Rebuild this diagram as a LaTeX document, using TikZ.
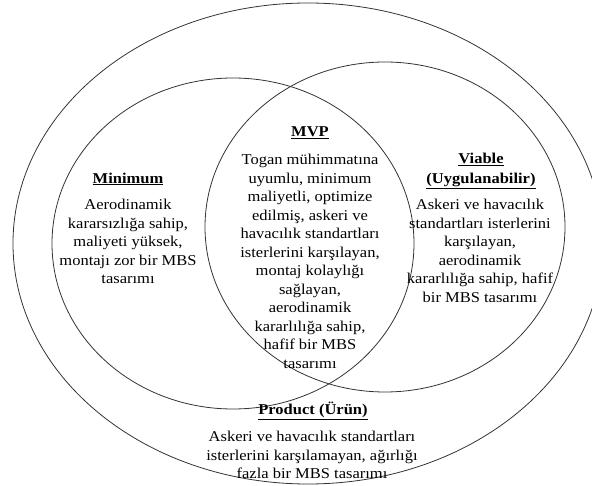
\documentclass[tikz,border=0pt]{standalone}
\usepackage{fontspec}
\setmainfont{Liberation Serif}[FakeStretch=1.1]
\usepackage{tikz}
\usetikzlibrary{positioning}

\begin{document}
\begin{tikzpicture}[
          x=1pt, y=-1pt,
          every node/.style={font=\fontsize{15}{18.5}\selectfont, inner sep=0pt},
          ring/.style={draw=black!80, line width=0.8pt},
          headtxt/.style={font=\fontsize{15}{20}\selectfont\bfseries, align=center},
          bodytxt/.style={align=center, anchor=north}
      ]
        \useasboundingbox (0,0) rectangle (592,486);

        % sets
        \draw[ring] (308,243.5) ellipse [x radius=295, y radius=240.5];
        \draw[ring] (233,243.5) ellipse [x radius=181, y radius=165.5];
        \draw[ring] (385,227) ellipse [x radius=180, y radius=165];

        % Minimum
        \node[headtxt] (minhead) at (128,179) {\underline{Minimum}};
        \node[bodytxt] (minbody) at (128,199)
          {Aerodinamik\\ kararsızlığa sahip,\\ maliyeti yüksek,\\ montajı zor bir MBS\\ tasarımı};

        % MVP
        \node[headtxt] (mvphead) at (310,133) {\underline{MVP}};
        \node[bodytxt] (mvpbody) at (310,154)
          {Togan mühimmatına\\ uyumlu, minimum\\ maliyetli, optimize\\ edilmiş, askeri ve\\
           havacılık standartları\\ isterlerini karşılayan,\\ montaj kolaylığı\\ sağlayan,\\
           aerodinamik\\ kararlılığa sahip,\\ hafif bir MBS\\ tasarımı};

        % Viable
        \node[headtxt] (viahead) at (481,171) {\underline{Viable}\\ \underline{(Uygulanabilir)}};
        \node[bodytxt] (viabody) at (480,199)
          {Askeri ve havacılık\\ standartları isterlerini\\ karşılayan,\\ aerodinamik\\
           kararlılığa sahip, hafif\\ bir MBS tasarımı};

        % Product
        \node[headtxt] (prohead) at (313,411) {\underline{Product (Ürün)}};
        \node[bodytxt] (probody) at (312,431)
          {Askeri ve havacılık standartları\\ isterlerini karşılamayan, ağırlığı\\ fazla bir MBS tasarımı};
      \end{tikzpicture}
\end{document}
